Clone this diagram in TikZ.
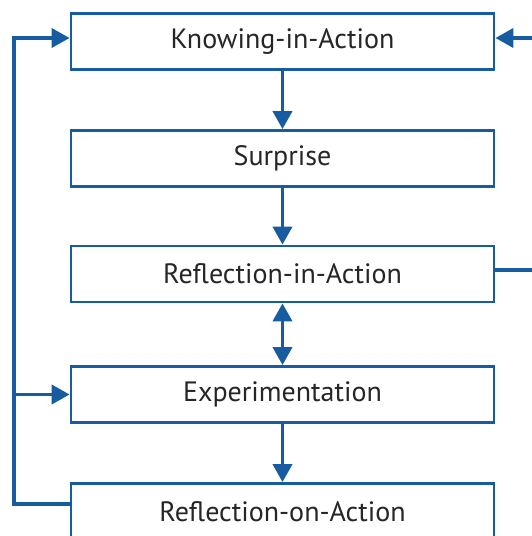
\documentclass[tikz,border=0pt]{standalone}
\usepackage{fontspec}
\setmainfont{PT Sans}
\usetikzlibrary{arrows.meta}
\definecolor{fblue}{HTML}{175CA0}
\definecolor{ftext}{HTML}{262626}
\tikzset{
  box/.style={draw=fblue, line width=2.8pt, fill=white, minimum width=423pt, minimum height=56pt, inner sep=0pt, text=ftext, font=\fontsize{28}{32}\selectfont},
  conn/.style={draw=fblue, line width=3.8pt},
  tip/.style={-{Triangle[length=18pt,width=19pt]}},
  dtip/.style={{Triangle[length=18pt,width=19pt]}-{Triangle[length=18pt,width=19pt]}}
}
\begin{document}
\begin{tikzpicture}[x=1pt,y=-1pt]
\useasboundingbox (0,0) rectangle (532,536);
\node[box] (kia) at (282.5,41.5) {Knowing-in-Action};
\node[box] (sur) at (282.5,158.5) {Surprise};
\node[box] (ria) at (282.5,274) {Reflection-in-Action};
\node[box] (exp) at (282.5,394.5) {Experimentation};
\node[box] (roa) at (282.5,511.5) {Reflection-on-Action};
\coordinate (lt) at (14,38);
\coordinate (lb) at (14,504);
\coordinate (rt) at (545,38);
\coordinate (rb) at (545,270);
\draw[conn,tip] (kia.south) -- (sur.north);
\draw[conn,tip] (sur.south) -- (ria.north);
\draw[conn,dtip] (ria.south) -- (exp.north);
\draw[conn,tip] (exp.south) -- (roa.north);
\draw[conn,tip] (roa.west |- lb) -- (lb) -- (lt) -- (kia.west |- lt);
\draw[conn,tip] (lb |- exp.west) -- (exp.west);
\draw[conn,tip] (ria.east |- rb) -- (rb) -- (rt) -- (kia.east |- rt);
\end{tikzpicture}
\end{document}
